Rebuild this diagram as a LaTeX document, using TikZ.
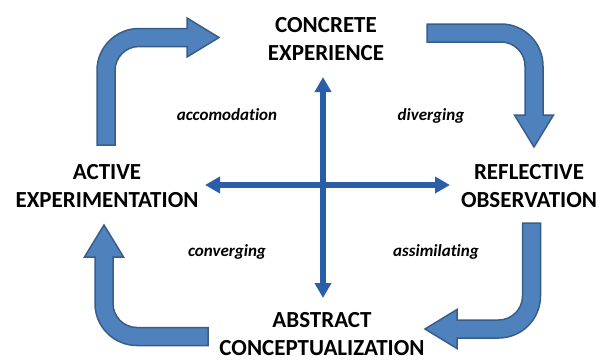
\documentclass[tikz,border=0pt]{standalone}
\usepackage{xcolor}
\usepackage{tikz}
\usepackage{fontspec}
\setmainfont{Carlito}[Ligatures=NoCommon]
\usetikzlibrary{arrows.meta}

\definecolor{arrowfill}{HTML}{4F81BD}
\definecolor{arrowline}{HTML}{385D8A}
\definecolor{crossblue}{HTML}{2B5EA8}

\tikzset{
    stage/.style={font=\bfseries\fontsize{23}{28}\selectfont, align=center, inner sep=0pt},
    mode/.style={font=\bfseries\itshape\fontsize{17}{20}\selectfont, inner sep=0pt, anchor=base},
    bent/.style={fill=arrowfill, draw=arrowline, line width=1.5pt},
    crossline/.style={draw=crossblue, line width=6pt,
        {Triangle[length=15pt,width=16pt]}-{Triangle[length=15pt,width=16pt]}}
}

% corner, rotation, tail leg, head leg
\newcommand{\bentarrow}[4]{%
    \filldraw[bent, shift={#1}, rotate=#2]
        (-42,-#3) -- (-42,0) arc[start angle=180, end angle=90, radius=42pt]
        -- (#4,42) -- (#4,52.5) -- (#4+32,33) -- (#4,13.5) -- (#4,24)
        -- (0,24) arc[start angle=90, end angle=180, radius=24pt]
        -- (-24,-#3) -- cycle;}

\begin{document}
\begin{tikzpicture}[x=1pt, y=1pt]
    \useasboundingbox (0,0) rectangle (605,360);

    \node (ce) at (326,321) [stage] {CONCRETE\\EXPERIENCE};
    \node (ro) at (529,173.5) [stage] {REFLECTIVE\\OBSERVATION};
    \node (ac) at (322,26) [stage] {ABSTRACT\\CONCEPTUALIZATION};
    \node (ae) at (107,173.5) [stage] {ACTIVE\\EXPERIMENTATION};

    \node (acc) at (227,240) [mode] {accomodation};
    \node (div) at (431,240) [mode] {diverging};
    \node (con) at (227,104) [mode] {converging};
    \node (ass) at (436,104) [mode] {assimilating};

    % ends of the two axes
    \coordinate (up) at (323,283);
    \coordinate (down) at (323,62);
    \coordinate (left) at (205,175);
    \coordinate (right) at (450,175);

    \draw[crossline] (down) -- (up);
    \draw[crossline] (left) -- (right);

    % the learning cycle
    \bentarrow{(139,289.5)}{0}{74.5}{48}
    \bentarrow{(501,294)}{-90}{74}{49}
    \bentarrow{(498.5,64)}{180}{73}{41.5}
    \bentarrow{(137,56.5)}{90}{71}{46.5}
\end{tikzpicture}
\end{document}
